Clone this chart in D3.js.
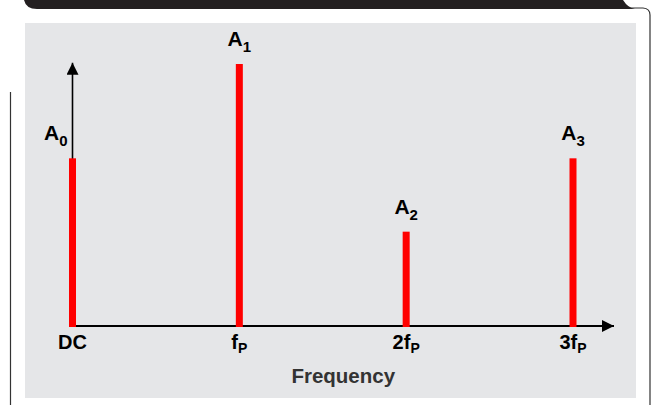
<!DOCTYPE html>
<html>
<head>
<meta charset="utf-8">
<script src="https://cdn.jsdelivr.net/npm/d3@7"></script>
<style>
  body { margin: 0; background: #fff; }
  svg { display: block; font-family: "Liberation Sans", Arial, sans-serif; font-weight: bold; }
</style>
</head>
<body>
<svg id="chart" width="652" height="405"></svg>
<script>
// harmonic index on the frequency axis, relative amplitude of each line
var harmonics = [0, 1, 2, 3];
var amplitudes = [0.64, 1.0, 0.36, 0.64];
var ampSubs = ["0", "1", "2", "3"];
var tickMain = ["DC", "f", "2f", "3f"];
var tickSub = ["", "P", "P", "P"];
var axisTitle = "Frequency";

(function () {
    "use strict";
    var svg = d3.select("#chart");

    // frame: black header strip, side rules and grey panel
    svg.append("path")
        .attr("d", "M24,0 L623,0 Q628,8 635,9 L37,9 Q26,9 24,0 Z")
        .attr("fill", "#231f20");
    svg.append("path")
        .attr("d", "M630,8 L643,8 Q650,8.5 650,15 L650,405")
        .attr("fill", "none").attr("stroke", "#333").attr("stroke-width", 1.2);
    svg.append("line")
        .attr("x1", 10.5).attr("x2", 10.5).attr("y1", 92).attr("y2", 405)
        .attr("stroke", "#333").attr("stroke-width", 1.2);
    svg.append("rect")
        .attr("x", 25).attr("y", 23).attr("width", 611).attr("height", 375)
        .attr("fill", "#e5e6e8");

    var x = d3.scaleLinear().domain([0, 3]).range([72.5, 573]);
    var y = d3.scaleLinear().domain([0, 1]).range([326, 64]);

    var defs = svg.append("defs");
    defs.append("marker")
        .attr("id", "arrow")
        .attr("viewBox", "0 0 12 12")
        .attr("refX", 12).attr("refY", 6)
        .attr("markerWidth", 12).attr("markerHeight", 12)
        .attr("markerUnits", "userSpaceOnUse")
        .attr("orient", "auto")
      .append("path")
        .attr("d", "M0,0 L12,6 L0,12 Z")
        .attr("fill", "#000");

    // axes with arrow heads (drawn under the spectral lines)
    svg.append("line")
        .attr("x1", x(0)).attr("x2", x(0))
        .attr("y1", y(0)).attr("y2", y(1.005))
        .attr("stroke", "#000").attr("stroke-width", 1.6)
        .attr("marker-end", "url(#arrow)");
    svg.append("line")
        .attr("x1", x(0)).attr("x2", x(3) + 41)
        .attr("y1", y(0)).attr("y2", y(0))
        .attr("stroke", "#000").attr("stroke-width", 1.8)
        .attr("marker-end", "url(#arrow)");

    // spectral lines
    svg.selectAll("rect.line")
        .data(harmonics)
      .enter()
        .append("rect")
        .classed("line", true)
        .attr("x", function (d) { return x(d) - 3.5; })
        .attr("width", 7)
        .attr("y", function (d, i) { return y(amplitudes[i]); })
        .attr("height", function (d, i) { return y(0) - y(amplitudes[i]) + 1; })
        .attr("fill", "#ff0000");

    // amplitude labels A0..A3
    var amp = svg.selectAll("text.amp")
        .data(harmonics)
      .enter()
        .append("text")
        .classed("amp", true)
        .attr("x", function (d) { return d === 0 ? x(d) - 5 : x(d); })
        .attr("y", function (d, i) { return y(amplitudes[i]) - 18; })
        .attr("text-anchor", function (d) { return d === 0 ? "end" : "middle"; })
        .attr("fill", "#000");
    amp.append("tspan").attr("font-size", 21).text("A");
    amp.append("tspan").attr("font-size", 15).attr("dy", 6)
        .text(function (d, i) { return ampSubs[i]; });

    // frequency tick labels
    var ticks = svg.selectAll("text.tick")
        .data(harmonics)
      .enter()
        .append("text")
        .classed("tick", true)
        .attr("x", function (d) { return x(d); })
        .attr("y", y(0) + 23)
        .attr("text-anchor", "middle")
        .attr("fill", "#000");
    ticks.append("tspan").attr("font-size", 20)
        .text(function (d, i) { return tickMain[i]; });
    ticks.append("tspan").attr("font-size", 14).attr("dy", 4)
        .text(function (d, i) { return tickSub[i]; });

    svg.append("text")
        .attr("x", (x(0) + x(3) + 41) / 2)
        .attr("y", 383)
        .attr("text-anchor", "middle")
        .attr("font-size", 20.5)
        .attr("fill", "#333")
        .text(axisTitle);
})();
</script>
</body>
</html>
